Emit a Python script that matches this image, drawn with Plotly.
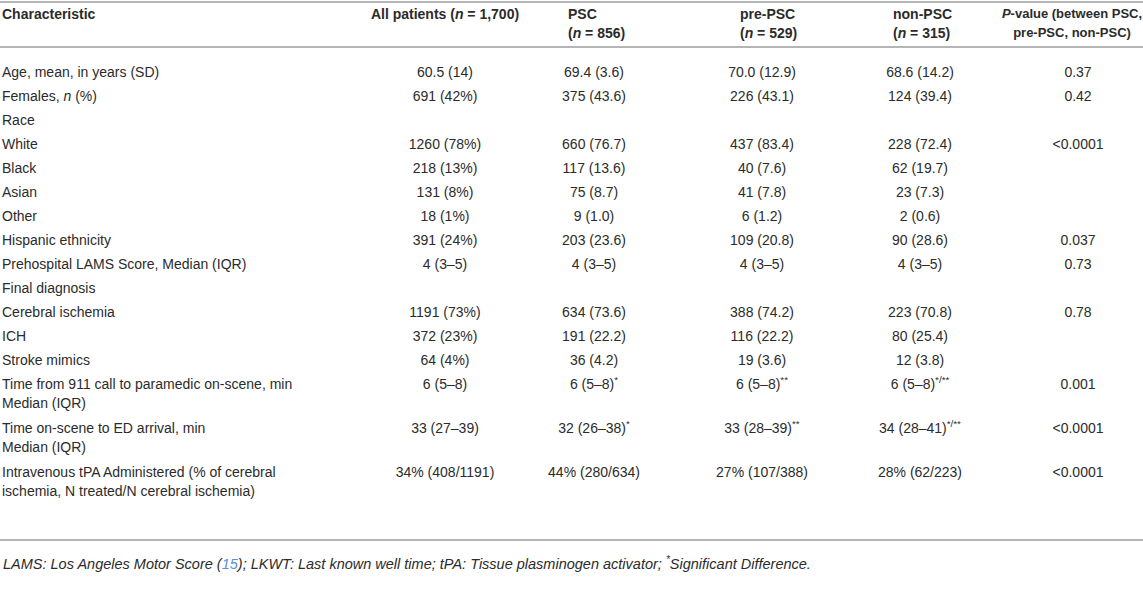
import plotly.graph_objects as go

# table content, one list per column
characteristics = [
    "Age, mean, in years (SD)",
    "Females, <i>n</i> (%)",
    "Race",
    "White",
    "Black",
    "Asian",
    "Other",
    "Hispanic ethnicity",
    "Prehospital LAMS Score, Median (IQR)",
    "Final diagnosis",
    "Cerebral ischemia",
    "ICH",
    "Stroke mimics",
    "Time from 911 call to paramedic on-scene, min<br>Median (IQR)",
    "Time on-scene to ED arrival, min<br>Median (IQR)",
    "Intravenous tPA Administered (% of cerebral<br>ischemia, N treated/N cerebral ischemia)",
]
all_patients = ["60.5 (14)", "691 (42%)", "", "1260 (78%)", "218 (13%)", "131 (8%)",
                "18 (1%)", "391 (24%)", "4 (3–5)", "", "1191 (73%)", "372 (23%)",
                "64 (4%)", "6 (5–8)", "33 (27–39)", "34% (408/1191)"]
psc = ["69.4 (3.6)", "375 (43.6)", "", "660 (76.7)", "117 (13.6)", "75 (8.7)",
       "9 (1.0)", "203 (23.6)", "4 (3–5)", "", "634 (73.6)", "191 (22.2)",
       "36 (4.2)", "6 (5–8)<sup>*</sup>", "32 (26–38)<sup>*</sup>", "44% (280/634)"]
pre_psc = ["70.0 (12.9)", "226 (43.1)", "", "437 (83.4)", "40 (7.6)", "41 (7.8)",
           "6 (1.2)", "109 (20.8)", "4 (3–5)", "", "388 (74.2)", "116 (22.2)",
           "19 (3.6)", "6 (5–8)<sup>**</sup>", "33 (28–39)<sup>**</sup>", "27% (107/388)"]
non_psc = ["68.6 (14.2)", "124 (39.4)", "", "228 (72.4)", "62 (19.7)", "23 (7.3)",
           "2 (0.6)", "90 (28.6)", "4 (3–5)", "", "223 (70.8)", "80 (25.4)",
           "12 (3.8)", "6 (5–8)<sup>*/**</sup>", "34 (28–41)<sup>*/**</sup>", "28% (62/223)"]
p_values = ["0.37", "0.42", "", "&lt;0.0001", "", "", "", "0.037", "0.73", "",
            "0.78", "", "", "0.001", "&lt;0.0001", "&lt;0.0001"]

headers = [
    "Characteristic",
    "All patients (<i>n</i> = 1,700)",
    "PSC<br>(<i>n</i> = 856)",
    "pre-PSC<br>(<i>n</i> = 529)",
    "non-PSC<br>(<i>n</i> = 315)",
    "<i>P</i>-value (between PSC,<br>pre-PSC, non-PSC)",
]
footnote = ("<i>LAMS: Los Angeles Motor Score (<span style='color:#5b8fd6'>15</span>); "
            "LKWT: Last known well time; tPA: Tissue plasminogen activator; "
            "<sup>*</sup>Significant Difference.</i>")

# layout (pixels)
W, H = 1143, 599
TEXT = "#2b2b2b"
RULE = "#b5b5b5"
FONT = "Liberation Sans, Arial, Helvetica, sans-serif"
FS = 14
col_x = [2, 445, 594, 762, 920, 1078]
col_pos = ["middle right", "middle center", "middle center", "middle center",
           "middle center", "middle center"]
head_x = [2, 445, 568, 740, 893, 1072]
head_pos = ["middle right", "middle center", "middle right", "middle right",
            "middle right", "middle center"]
head_fs = [14, 14, 14, 14, 14, 13]
head_y0, head_gap = 15, 19
body_y0, row_h, line_gap, extra_line = 73, 24, 19, 20
rule_y = [2, 47, 540]
foot_y = 563

fig = go.Figure()


def add_text(xs, ys, texts, pos, size=FS):
    fig.add_trace(go.Scatter(
        x=xs, y=ys, text=texts, mode="text", textposition=pos,
        textfont=dict(family=FONT, size=size, color=TEXT),
        hoverinfo="skip", showlegend=False, cliponaxis=False))


# header
for h, x, pos, fs in zip(headers, head_x, head_pos, head_fs):
    lines = h.split("<br>")
    add_text([x] * len(lines), [head_y0 + k * head_gap for k in range(len(lines))],
             ["<b>" + ln + "</b>" for ln in lines], pos, fs)

# body rows
columns = [characteristics, all_patients, psc, pre_psc, non_psc, p_values]
row_y = []
y = body_y0
for label in characteristics:
    row_y.append(y)
    y += row_h + extra_line * label.count("<br>")

for col, x, pos in zip(columns, col_x, col_pos):
    xs, ys, ts = [], [], []
    for val, ry in zip(col, row_y):
        if not val:
            continue
        for k, ln in enumerate(val.split("<br>")):
            xs.append(x)
            ys.append(ry + k * line_gap)
            ts.append(ln)
    add_text(xs, ys, ts, pos)

for ry in rule_y:
    fig.add_shape(type="line", x0=0, x1=W, y0=ry, y1=ry, xref="x", yref="y",
                  line=dict(color=RULE, width=2))

fig.add_annotation(x=0, y=foot_y, xref="x", yref="y", text=footnote, showarrow=False,
                   xanchor="left", yanchor="middle", xshift=1,
                   font=dict(family=FONT, size=14.5, color=TEXT))

fig.update_layout(
    width=W, height=H, margin=dict(l=0, r=0, t=0, b=0),
    paper_bgcolor="white", plot_bgcolor="white",
    xaxis=dict(range=[0, W], visible=False, fixedrange=True),
    yaxis=dict(range=[H, 0], visible=False, fixedrange=True),
)

# page body margin off so the figure sits at the window's corner
fig.write_html("out.html", config={"displayModeBar": False},
               post_script="document.body.style.margin='0';"
                           "document.body.style.overflow='hidden';")
